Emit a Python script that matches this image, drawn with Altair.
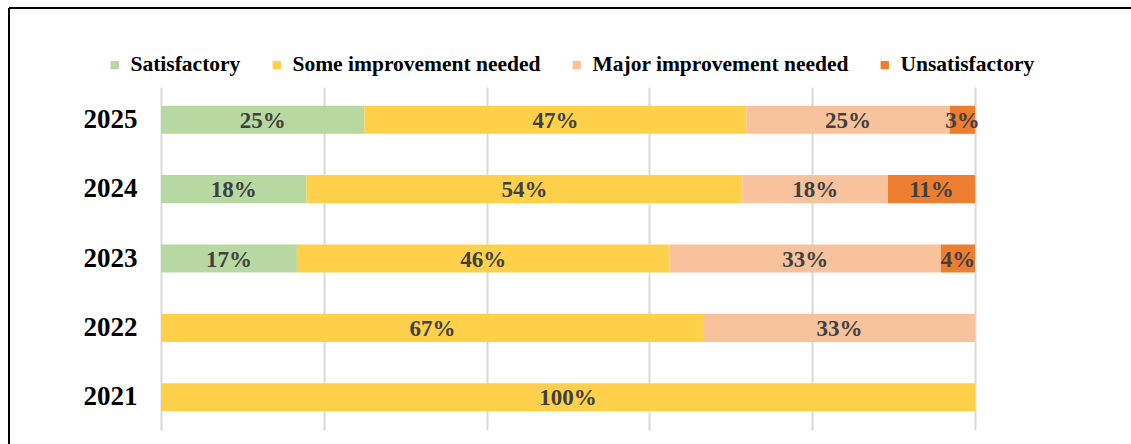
import altair as alt
import pandas as pd

years = ["2025", "2024", "2023", "2022", "2021"]
categories = ["Satisfactory", "Some improvement needed", "Major improvement needed", "Unsatisfactory"]
satisfactory = [25.0, 17.9, 16.7, 0.0, 0.0]
some_improvement = [46.9, 53.6, 45.8, 66.7, 100.0]
major_improvement = [25.0, 17.9, 33.3, 33.3, 0.0]
unsatisfactory = [3.1, 10.7, 4.2, 0.0, 0.0]
grid_values = [0, 0.2, 0.4, 0.6, 0.8, 1.0]

colors = ["#B7D9A1", "#FFD04A", "#F7C29C", "#ED7D31"]
FONT = "Liberation Serif"

rows = []
for cat_i, (cat, series) in enumerate(zip(categories, [satisfactory, some_improvement, major_improvement, unsatisfactory])):
    for y, v in zip(years, series):
        if v > 0:
            rows.append({"year": y, "category": cat, "value": v, "order": cat_i})
df = pd.DataFrame(rows)

base = alt.Chart(df).transform_stack(
    stack="value", groupby=["year"], as_=["x0", "x1"],
    sort=[alt.SortField("order")], offset="normalize"
).transform_calculate(
    mid="(datum.x0 + datum.x1) / 2",
    label="round(datum.value) + '%'"
)

y_enc = alt.Y("year:N", sort=years, title=None,
              scale=alt.Scale(paddingInner=0.595, paddingOuter=0.27),
              axis=alt.Axis(labelFont=FONT, labelFontSize=27, labelFontWeight="bold",
                            labelColor="#000000", ticks=False, domain=False, grid=False,
                            labelPadding=24))

bars = base.mark_bar().encode(
    x=alt.X("x0:Q", title=None, scale=alt.Scale(domain=[0, 1], nice=False),
            axis=alt.Axis(values=grid_values, labels=False, ticks=False, domain=False,
                          grid=True, gridColor="#D9D9D9", gridWidth=2)),
    x2="x1:Q",
    y=y_enc,
    color=alt.Color("category:N", scale=alt.Scale(domain=categories, range=colors),
                    legend=alt.Legend(title=None, orient="none", direction="horizontal",
                                      legendX=-57, legendY=-33,
                                      symbolType="square", symbolSize=70, symbolStrokeWidth=0,
                                      labelFont=FONT, labelFontSize=21.5, labelFontWeight="bold",
                                      labelColor="#000000", columnPadding=25, labelOffset=5,
                                      labelLimit=400)),
)

labels = base.mark_text(font=FONT, fontSize=23, fontWeight="bold", color="#404040",
                        align="center", baseline="middle", dy=1).encode(
    x="mid:Q",
    y=alt.Y("year:N", sort=years),
    text="label:N",
)

frame_top = alt.Chart(alt.Data(values=[{}])).mark_rule(color="#000000", strokeWidth=2).encode(
    x=alt.value(-152), x2=alt.value(1000), y=alt.value(-79))
frame_left = alt.Chart(alt.Data(values=[{}])).mark_rule(color="#000000", strokeWidth=2).encode(
    x=alt.value(-152), y=alt.value(-79), y2=alt.value(400))

chart = alt.layer(bars, labels, frame_top, frame_left).properties(
    width=814, height=343,
    autosize=alt.AutoSizeParams(type="none"),
    padding={"left": 161, "top": 87, "right": 156, "bottom": 14},
    background="#FFFFFF",
).configure_view(stroke=None)

chart.save("out.html", embed_options={"renderer": "svg", "actions": False})
